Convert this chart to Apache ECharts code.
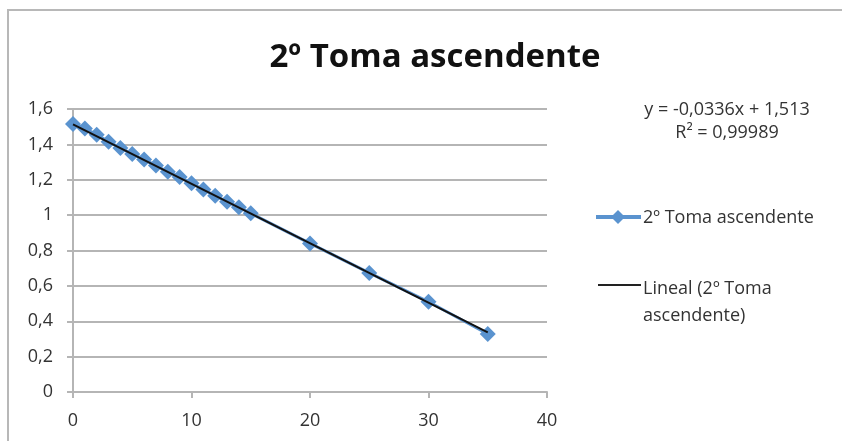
<!DOCTYPE html>
<html>
<head>
<meta charset="utf-8">
<script src="https://cdn.jsdelivr.net/npm/echarts@6/dist/echarts.min.js"></script>
<style>html,body{margin:0;padding:0;background:#fff;}#c{width:842px;height:441px;}</style>
</head>
<body>
<div id="c"></div>
<script>
const titleText = '2º Toma ascendente';
const seriesName = '2º Toma ascendente';
const trendName = 'Lineal (2º Toma ascendente)';
const xValues = [0,1,2,3,4,5,6,7,8,9,10,11,12,13,14,15,20,25,30,35];
const yValues = [1.515,1.49,1.455,1.415,1.38,1.345,1.315,1.28,1.245,1.215,1.18,1.145,1.11,1.075,1.045,1.01,0.84,0.673,0.51,0.328];
const trendSlope = -0.0336;
const trendIntercept = 1.513;
const trendRange = [0, 35];
const equationLines = ['y = -0,0336x + 1,513', 'R² = 0,99989'];

const font = '"Open Sans", "Liberation Sans", sans-serif';
const blue = '#5a93cf';
const pts = xValues.map((x, i) => [x, yValues[i]]);
const trendPts = trendRange.map(x => [x, trendIntercept + trendSlope * x]);

const chart = echarts.init(document.getElementById('c'));
chart.setOption({
  animation: false,
  backgroundColor: '#fff',
  title: {
    text: titleText, left: 430, top: 36, textAlign: 'center',
    textStyle: { fontFamily: font, fontSize: 33, fontWeight: 'bold', color: '#111' }
  },
  grid: { left: 73, right: 295, top: 109, bottom: 49, containLabel: false },
  xAxis: {
    type: 'value', min: 0, max: 40, interval: 10,
    axisLine: { show: true, lineStyle: { color: '#b5b5b5', width: 2 } },
    axisTick: { show: true, length: 6, lineStyle: { color: '#b5b5b5', width: 2 } },
    splitLine: { show: false },
    axisLabel: { margin: 20, fontFamily: font, fontSize: 18, color: '#333' }
  },
  yAxis: {
    type: 'value', min: 0, max: 1.6, interval: 0.2,
    axisLine: { show: true, lineStyle: { color: '#b5b5b5', width: 2 } },
    axisTick: { show: true, length: 6, lineStyle: { color: '#b5b5b5', width: 2 } },
    splitLine: { show: true, lineStyle: { color: '#b5b5b5', width: 2 } },
    axisLabel: {
      margin: 20, fontFamily: font, fontSize: 18, color: '#333',
      formatter: v => String(+v.toFixed(1)).replace('.', ',')
    }
  },
  series: [
    {
      name: seriesName, type: 'line', data: pts,
      symbol: 'diamond', symbolSize: 16, showSymbol: true,
      lineStyle: { color: blue, width: 3 },
      itemStyle: { color: blue },
      z: 2
    },
    {
      name: trendName, type: 'line', data: trendPts,
      symbol: 'none',
      lineStyle: { color: '#111', width: 2 },
      z: 3
    }
  ],
  graphic: [
    { type: 'rect', shape: { x: 8, y: 10, width: 1000, height: 600 }, style: { fill: 'none', stroke: '#b8b8b8', lineWidth: 2 }, silent: true, z: -1 },
    { type: 'text', x: 727, y: 110, style: { text: equationLines[0], font: '18px ' + font, fill: '#333', textAlign: 'center', textVerticalAlign: 'middle' } },
    { type: 'text', x: 727, y: 133, style: { text: equationLines[1], font: '18px ' + font, fill: '#333', textAlign: 'center', textVerticalAlign: 'middle' } },
    { type: 'line', shape: { x1: 596, y1: 217, x2: 641, y2: 217 }, style: { stroke: blue, lineWidth: 4 } },
    { type: 'polygon', shape: { points: [[618,210],[625,217],[618,224],[611,217]] }, style: { fill: blue } },
    { type: 'text', x: 643, y: 218, style: { text: seriesName, font: '18px ' + font, fill: '#333', textAlign: 'left', textVerticalAlign: 'middle' } },
    { type: 'line', shape: { x1: 598, y1: 285, x2: 641, y2: 285 }, style: { stroke: '#222', lineWidth: 2 } },
    { type: 'text', x: 643, y: 289, style: { text: 'Lineal (2º Toma', font: '18px ' + font, fill: '#333', textAlign: 'left', textVerticalAlign: 'middle' } },
    { type: 'text', x: 643, y: 316, style: { text: 'ascendente)', font: '18px ' + font, fill: '#333', textAlign: 'left', textVerticalAlign: 'middle' } }
  ]
});
</script>
</body>
</html>
